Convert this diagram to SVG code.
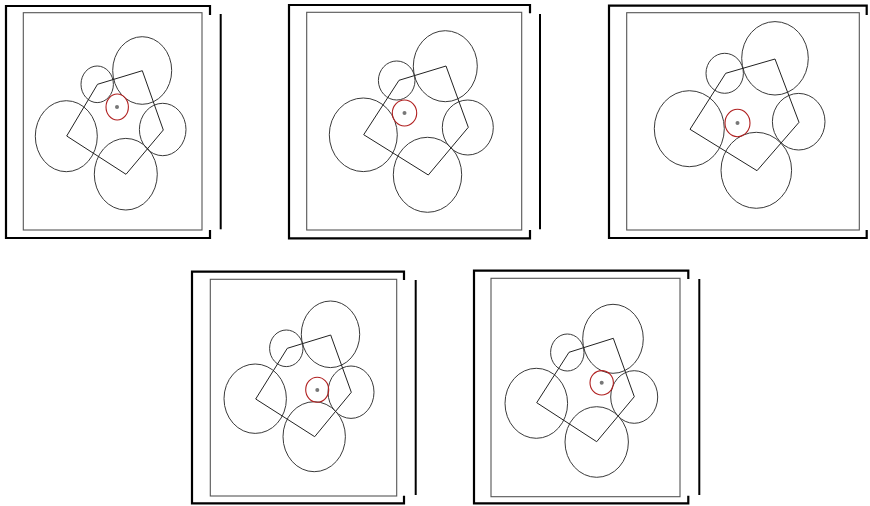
<svg xmlns="http://www.w3.org/2000/svg" width="870" height="506" viewBox="0 0 870 506">
<style>
.frame{fill:none;stroke:#000;stroke-width:2.2}
.bar{stroke:#000;stroke-width:2}
.inner{fill:none;stroke:#555;stroke-width:1.1}
.c{fill:none;stroke:#3a3a3a;stroke-width:1}
.poly{fill:none;stroke:#222;stroke-width:1}
.red{fill:none;stroke:#b02020;stroke-width:1.1}
.dot{fill:#777}
</style>
<rect width="870" height="506" fill="#fff"/>
<g id="panel1">
<path class="frame" d="M210,15 V6 H6 V238 H210 V230"/>
<line class="bar" x1="220.7" y1="14" x2="220.7" y2="229.3"/>
<rect class="inner" x="23.3" y="12.7" width="178.7" height="217.3"/>
<ellipse class="c" cx="97.2" cy="84.3" rx="16.2" ry="18.3"/>
<ellipse class="c" cx="142.2" cy="70.5" rx="29.5" ry="33.8"/>
<ellipse class="c" cx="162.7" cy="129.5" rx="23.3" ry="26.2"/>
<ellipse class="c" cx="125.8" cy="174.2" rx="31.5" ry="35.8"/>
<ellipse class="c" cx="66.3" cy="136.2" rx="31" ry="35.5"/>
<polygon class="poly" points="97.5,84.3 142.3,70.7 163.3,130 126,174.3 66.7,136"/>
<ellipse class="red" cx="117.2" cy="107" rx="11.2" ry="13"/>
<circle class="dot" cx="117" cy="107" r="2"/>
</g>
<g id="panel2">
<path class="frame" d="M530,13.3 V5 H289 V238.3 H530 V230"/>
<line class="bar" x1="540" y1="14" x2="540" y2="229.3"/>
<rect class="inner" x="306.7" y="12.3" width="215" height="217.7"/>
<ellipse class="c" cx="396.7" cy="80.5" rx="18.3" ry="19.5"/>
<ellipse class="c" cx="445.3" cy="66.2" rx="32" ry="35.5"/>
<ellipse class="c" cx="467.8" cy="127.5" rx="25.5" ry="27.5"/>
<ellipse class="c" cx="427.5" cy="174.8" rx="34.2" ry="37.5"/>
<ellipse class="c" cx="363.3" cy="134.8" rx="34" ry="36.8"/>
<polygon class="poly" points="399,80.3 446,66 468.3,127.3 428.3,175 363.7,134.7"/>
<ellipse class="red" cx="404.5" cy="113" rx="12.2" ry="13"/>
<circle class="dot" cx="404.5" cy="113" r="2"/>
</g>
<g id="panel3">
<path class="frame" d="M866.7,15 V5.7 H609 V238 H866.7 V230"/>
<rect class="inner" x="626.7" y="12.7" width="232.6" height="217.3"/>
<ellipse class="c" cx="724.7" cy="73.3" rx="18.7" ry="20"/>
<ellipse class="c" cx="775" cy="58.3" rx="33.3" ry="36.7"/>
<ellipse class="c" cx="798.7" cy="121.7" rx="26.3" ry="28.3"/>
<ellipse class="c" cx="756.3" cy="170.3" rx="35.3" ry="38"/>
<ellipse class="c" cx="689.3" cy="128.7" rx="35" ry="38"/>
<polygon class="poly" points="725.7,73.3 775,59 799,122.3 757,170.7 690,129.3"/>
<ellipse class="red" cx="737.5" cy="123" rx="12.5" ry="13.7"/>
<circle class="dot" cx="737.5" cy="123" r="2"/>
</g>
<g id="panel4">
<path class="frame" d="M404,280 V271.7 H192 V503.3 H404 V495.7"/>
<line class="bar" x1="415.7" y1="280" x2="415.7" y2="495"/>
<rect class="inner" x="210.3" y="279.3" width="186.4" height="216.7"/>
<ellipse class="c" cx="286.3" cy="348.3" rx="16.7" ry="18.3"/>
<ellipse class="c" cx="330.5" cy="334.3" rx="29.2" ry="33.3"/>
<ellipse class="c" cx="351" cy="392.2" rx="23" ry="26.2"/>
<ellipse class="c" cx="314.2" cy="436.7" rx="31.2" ry="35"/>
<ellipse class="c" cx="255.2" cy="398.7" rx="31.2" ry="34.7"/>
<polygon class="poly" points="287.3,348.3 330.7,335 351.3,392.3 314.7,436.7 255.7,399"/>
<ellipse class="red" cx="317.2" cy="389.8" rx="11.5" ry="12.5"/>
<circle class="dot" cx="317.3" cy="390" r="2"/>
</g>
<g id="panel5">
<path class="frame" d="M688.3,279 V270.7 H474 V503.3 H688.3 V495.7"/>
<line class="bar" x1="699.3" y1="279" x2="699.3" y2="495"/>
<rect class="inner" x="491" y="278.3" width="189" height="218.4"/>
<ellipse class="c" cx="567.3" cy="352.5" rx="16.7" ry="18.5"/>
<ellipse class="c" cx="613" cy="338.8" rx="30.3" ry="34.5"/>
<ellipse class="c" cx="634.2" cy="397" rx="23.5" ry="26.3"/>
<ellipse class="c" cx="596.7" cy="442" rx="31.7" ry="35.3"/>
<ellipse class="c" cx="536.3" cy="403.3" rx="31.3" ry="35"/>
<polygon class="poly" points="569,352.3 613.3,338.3 634.3,396.7 596.7,441.7 536.7,402.7"/>
<ellipse class="red" cx="601.7" cy="382.8" rx="11.7" ry="12.2"/>
<circle class="dot" cx="601.7" cy="382.8" r="2"/>
</g>
</svg>
